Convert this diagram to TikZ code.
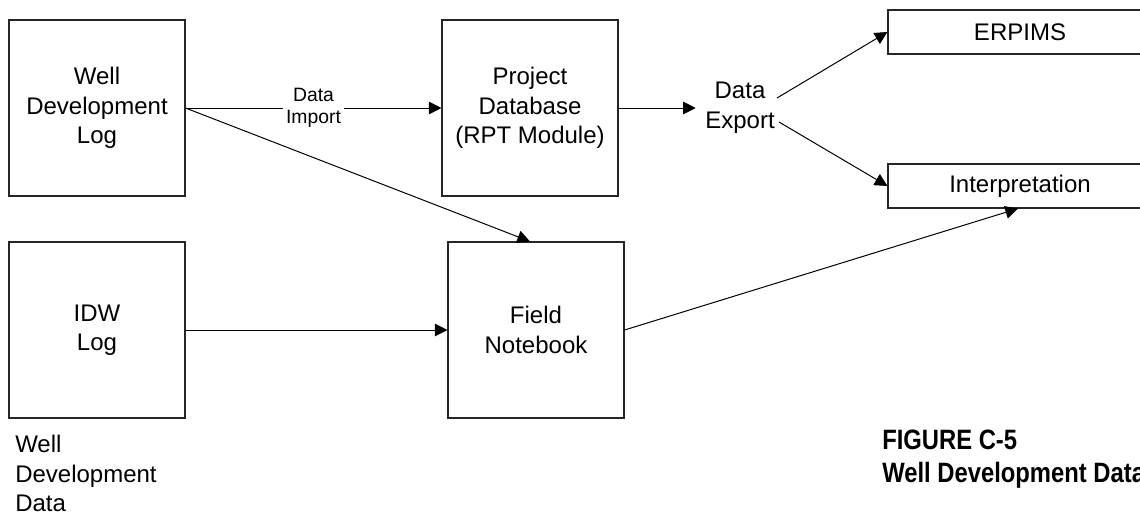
\documentclass[tikz,border=0pt]{standalone}
\usepackage{fontspec}
\setmainfont{Liberation Sans}
\newfontfamily\capfont[FakeStretch=0.85]{Liberation Sans}
\usetikzlibrary{arrows.meta}
\begin{document}
\begin{tikzpicture}[x=0.75pt,y=-0.75pt,
  txt/.style={font=\fontsize{18}{22}\selectfont},
  box/.style={txt, draw=black!85, line width=0.8pt, minimum width=132pt,
    minimum height=132pt, align=center, inner sep=0pt},
  wide/.style={txt, draw=black!85, line width=0.8pt, minimum width=198pt,
    minimum height=33pt, inner sep=0pt},
  flow/.style={line width=0.75pt, -{Triangle[length=9.5pt,width=9.5pt]}},
  tag/.style={fill=white, align=center, inner sep=2pt,
    font=\fontsize{14.5}{16.5}\selectfont}
]
\useasboundingbox (0,0) rectangle (1140,512);
\clip (0,0) rectangle (1140,512);

% sources and stores
\node[box] (wdl) at (97,108) {Well\\Development\\Log};
\node[box] (pdb) at (530,108) {Project\\Database\\(RPT Module)};
\node[box] (idw) at (97,330) {IDW\\Log};
\node[box] (fnb) at (536,330) {Field\\Notebook};

% export targets (run past the right edge)
\node[wide] (erp) at (1020,32) {ERPIMS};
\node[wide] (intp) at (1020,186) {Interpretation};

% export junction
\node[align=center, inner xsep=7pt, inner ysep=0pt,
  font=\fontsize{18}{22.5}\selectfont] (exp) at (740,108) {Data\\Export};
\coordinate (exu) at (777,98);
\coordinate (exl) at (779,122);

% connectors
\draw[flow] (wdl.east) -- node[tag] (imp) {Data\\Import} (pdb.west);
\draw[flow] (wdl.east) -- ([xshift=-4.5pt]fnb.north);
\draw[flow] (idw.east) -- (fnb.west);
\draw[flow] (pdb.east) -- (exp.west);
\draw[flow] (exu) -- (erp.west);
\draw[flow] (exl) -- (intp.west);
\draw[flow] (fnb.east) -- ([xshift=-1.5pt]intp.south);

% captions
\node[txt, anchor=north west, inner sep=0pt, align=left] (wdd) at (15,435)
  {Well\\Development\\Data};
\node[anchor=north west, inner sep=0pt, align=left,
  font=\capfont\bfseries\fontsize{21}{24.75}\selectfont] (cap) at (882,430)
  {FIGURE C-5\\Well Development Data};
\end{tikzpicture}
\end{document}
